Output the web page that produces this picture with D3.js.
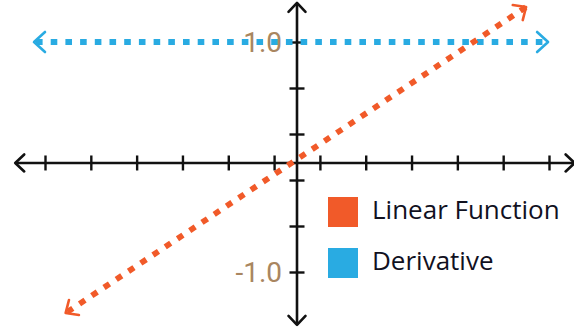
<!DOCTYPE html>
<meta charset="utf-8">
<style>
    body { margin: 0; background: #fff; }
    svg { display: block; }
</style>
<script src="https://d3js.org/d3.v7.min.js"></script>
<div id="chart"></div>
<script>
    // series: end points of the two dotted lines (x in axis units, y in function units)
    var linearX = [-5.05, 5.0];
    var linearY = [-1.357, 1.304];
    var derivX = [-5.74, 5.48];
    var derivY = [1.0, 1.0];

    // axis extents and ticks
    var xAxisRange = [-6.15, 6.06];
    var yAxisRange = [-1.46, 1.34];
    var xTicks = [-5.5, -4.5, -3.5, -2.5, -1.5, -0.5, 0.5, 1.5, 2.5, 3.5, 4.5, 5.5];
    var yTicks = [1.0, 0.6, 0.2, -0.2, -0.6, -1.0];
    var yTickLabels = {"1": "1.0", "-1": "-1.0"};
    var xAxisAtY = -0.052;   // horizontal axis sits a little below y = 0

    var legendNames = ["Linear Function", "Derivative"];
    var colors = {"Linear Function": "#f15a29", "Derivative": "#29abe2"};

    var width = 574, height = 327;

    var svg = d3.select("#chart").append("svg")
        .attr("width", width)
        .attr("height", height);

    var x = d3.scaleLinear().domain([-5.5, 5.5]).range([45, 549]);
    var y = d3.scaleLinear().domain([-1, 1]).range([272, 42]);

    // chevron arrow heads
    var defs = svg.append("defs");
    function chevron(id, color, back, spread, sw) {
        defs.append("marker")
            .attr("id", id)
            .attr("markerUnits", "userSpaceOnUse")
            .attr("viewBox", "-20 -20 40 40")
            .attr("markerWidth", 40)
            .attr("markerHeight", 40)
            .attr("refX", 0)
            .attr("refY", 0)
            .attr("orient", "auto-start-reverse")
            .append("path")
            .attr("d", "M" + (-back) + "," + (-spread) + "L0,0L" + (-back) + "," + spread)
            .attr("fill", "none")
            .attr("stroke", color)
            .attr("stroke-width", sw)
            .attr("stroke-linecap", "round")
            .attr("stroke-linejoin", "round");
    }
    chevron("arrBlack", "#111", 9, 8.5, 2.6);
    chevron("arrOrange", colors["Linear Function"], 10, 9, 2.6);
    chevron("arrBlue", colors["Derivative"], 11, 10, 2.6);

    var yAxisPx = y(xAxisAtY);

    // horizontal axis
    svg.append("line")
        .attr("x1", x(xAxisRange[0])).attr("x2", x(xAxisRange[1]))
        .attr("y1", yAxisPx).attr("y2", yAxisPx)
        .attr("stroke", "#111").attr("stroke-width", 2.6)
        .attr("marker-start", "url(#arrBlack)")
        .attr("marker-end", "url(#arrBlack)");

    var gx = svg.append("g")
        .attr("transform", "translate(0," + yAxisPx + ")")
        .call(d3.axisBottom(x).tickValues(xTicks).tickSize(0).tickFormat(""));
    gx.select(".domain").remove();
    gx.selectAll(".tick line")
        .attr("y1", -7.5).attr("y2", 7.5)
        .attr("stroke", "#111").attr("stroke-width", 2.4);

    // vertical axis
    svg.append("line")
        .attr("x1", x(0)).attr("x2", x(0))
        .attr("y1", y(yAxisRange[0])).attr("y2", y(yAxisRange[1]))
        .attr("stroke", "#111").attr("stroke-width", 2.6)
        .attr("marker-start", "url(#arrBlack)")
        .attr("marker-end", "url(#arrBlack)");

    var gy = svg.append("g")
        .attr("transform", "translate(" + x(0) + ",0)")
        .call(d3.axisLeft(y).tickValues(yTicks).tickSize(0)
            .tickFormat(function (d) { return yTickLabels[String(d)] || ""; }));
    gy.select(".domain").remove();
    gy.selectAll(".tick line")
        .attr("x1", -7.5).attr("x2", 7.5)
        .attr("stroke", "#111").attr("stroke-width", 2.4);
    gy.selectAll(".tick text").remove();

    // dotted lines
    var line = d3.line()
        .x(function (d) { return x(d[0]); })
        .y(function (d) { return y(d[1]); });

    svg.append("path")
        .datum(d3.zip(derivX, derivY))
        .attr("d", line)
        .attr("fill", "none")
        .attr("stroke", colors["Derivative"])
        .attr("stroke-width", 5.8)
        .attr("stroke-dasharray", "6.6,8.1")
        .attr("stroke-dashoffset", -2)
        .attr("marker-start", "url(#arrBlue)")
        .attr("marker-end", "url(#arrBlue)");

    svg.append("path")
        .datum(d3.zip(linearX, linearY))
        .attr("d", line)
        .attr("fill", "none")
        .attr("stroke", colors["Linear Function"])
        .attr("stroke-width", 5.8)
        .attr("stroke-dasharray", "6.6,8.1")
        .attr("stroke-dashoffset", -2)
        .attr("marker-start", "url(#arrOrange)")
        .attr("marker-end", "url(#arrOrange)");

    // y tick labels on top of the lines
    svg.selectAll("text.ylab")
        .data(yTicks.filter(function (d) { return yTickLabels[String(d)]; }))
        .enter().append("text")
        .attr("class", "ylab")
        .attr("x", x(0) - 15)
        .attr("y", function (d) { return y(d); })
        .attr("dy", "0.37em")
        .attr("text-anchor", "end")
        .style("font-family", "Roboto, sans-serif")
        .style("font-size", "28px")
        .style("fill", "#a98660")
        .text(function (d) { return yTickLabels[String(d)]; });

    // legend
    var legend = svg.selectAll("g.legend")
        .data(legendNames)
        .enter().append("g")
        .attr("class", "legend")
        .attr("transform", function (d, i) { return "translate(328," + (197 + i * 51) + ")"; });

    legend.append("rect")
        .attr("width", 30).attr("height", 30)
        .style("fill", function (d) { return colors[d]; });

    legend.append("text")
        .attr("x", 44)
        .attr("y", 21.5)
        .style("font-family", "'Open Sans', sans-serif")
        .style("font-size", "26px")
        .style("fill", "#11111f")
        .text(function (d) { return d; });
</script>
</html>
